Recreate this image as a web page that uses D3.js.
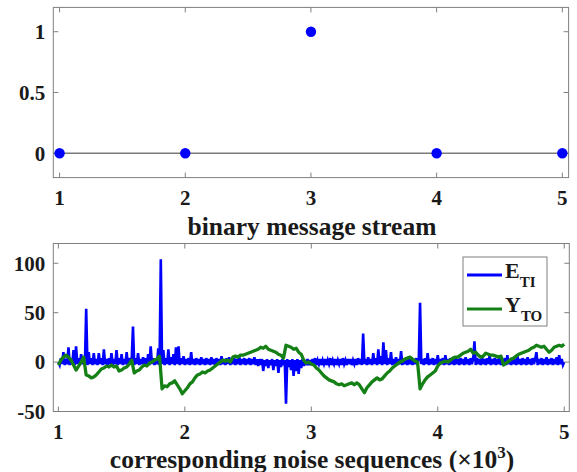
<!DOCTYPE html>
<html>
<head>
<meta charset="utf-8">
<script src="https://cdn.jsdelivr.net/npm/d3@7"></script>
<style>
  html, body { margin: 0; padding: 0; background: #fff; }
  svg { display: block; }
  text { font-family: "Liberation Serif", "Times New Roman", serif; font-weight: bold; fill: #1a1a1a; }
</style>
</head>
<body>
<svg id="chart" width="577" height="472"></svg>
<script>
// ---------- data ----------
const msgIndex = [1, 2, 3, 4, 5];
const msgBits  = [0, 0, 1, 0, 0];

const xTickLabels   = [1, 2, 3, 4, 5];
const topYTicks     = [0, 0.5, 1];
const bottomYTicks  = [-50, 0, 50, 100];

// E_TI: one value every 10 samples, from sample 1000 to 5000
const etiStart = 1000, etiStep = 10;
const etiValues = [
  0,-3,4,-2,10,-3,3,-2,15,-3,
  3,-2,12,-3,16,-2,4,-3,8,-2,
  3,-2,54,-3,10,-2,4,-3,9,-2,
  3,-3,9,-2,4,-3,13,-2,3,-3,
  4,-2,9,-3,3,-2,12,-3,4,-2,
  8,-3,3,-2,10,-3,4,-2,3,36,
  -3,4,-2,9,-3,3,-2,5,-3,4,
  -2,8,-3,16,-2,4,-3,3,-2,14,
  -3,104,-2,12,-3,4,-2,13,-3,5,
  -2,8,-3,15,-2,16,-3,4,-2,6,
  -3,3,-2,4,-3,10,-2,3,-3,4,
  -2,3,-3,5,-2,3,-3,4,-2,3,
  -3,5,-2,3,-3,4,-2,3,-3,6,
  -2,3,-3,4,-2,5,-3,3,-2,4,
  -3,3,-2,6,-3,3,-2,4,-3,3,
  -2,4,-3,3,-2,5,-3,3,-4,3,
  -3,3,-9,2,-4,3,-6,2,-3,3,
  -8,2,-4,3,-11,2,-5,3,-3,2,
  -42,3,-5,2,-8,3,-14,2,-9,3,
  -12,2,-6,3,-4,2,-3,3,-3,2,
  -3,3,-2,4,-3,2,-2,3,-3,2,
  -2,3,-3,2,-2,4,-3,2,-2,3,
  -3,2,-2,3,-3,4,-2,2,-3,3,
  -2,3,-3,2,-2,3,-3,4,-2,3,
  -3,29,-2,3,-3,5,-2,3,-3,9,
  -2,4,-3,13,-2,6,-3,20,-2,12,
  -3,4,-2,10,-3,3,-2,5,-3,3,
  -2,11,-3,3,-2,4,-3,3,-2,5,
  -3,3,-2,4,-3,3,60,-2,3,-3,
  4,-2,9,-3,3,-2,4,-3,3,-2,
  7,-3,3,-2,4,-3,7,-2,3,-3,
  4,-2,3,-3,5,-2,3,-3,4,-2,
  3,-3,5,-2,3,-3,4,-2,3,21,
  -3,4,-2,3,-3,5,-2,3,-3,4,
  -2,7,-3,3,-2,4,-3,3,-2,5,
  -3,3,-2,4,-3,7,-2,3,-3,4,
  -2,3,-3,6,-2,3,-3,4,-2,3,
  -3,5,-2,3,-3,4,-2,3,10,-3,
  3,-2,4,-3,3,-2,5,-3,3,-2,
  4,-3,3,-2,5,-3,7,-2,3,-3,
  0
];

// Y_TO: one value every 20 samples, from sample 1000 to 5000
const ytoStart = 1000, ytoStep = 20;
const ytoValues = [
  -3,2,5,7,5,2,-3,-8,-4,0,
  5,-13,-14,-16,-15,-13,-10,-7,-6,-4,
  -5,-3,-5,-4,-9,-8,-6,-5,-2,2,
  -11,-9,-8,-5,-3,-4,-1,0,2,3,
  6,-27,-24,-25,-22,-21,-19,-23,-27,-32,
  -29,-26,-22,-20,-16,-13,-12,-10,-11,-9,
  -8,-6,-4,-2,0,2,1,2,0,5,
  6,5,7,7,8,9,10,11,12,13,
  15,14,16,13,12,11,10,8,7,4,
  17,16,15,13,14,10,8,2,-1,0,
  -2,-3,-6,-8,-11,-14,-16,-18,-19,-20,
  -22,-23,-22,-24,-23,-22,-21,-23,-21,-23,
  -27,-31,-26,-23,-20,-18,-16,-18,-17,-14,
  -11,-9,-6,-4,-2,0,1,3,4,5,
  3,1,0,-27,-22,-18,-15,-13,-11,-9,
  -4,-1,0,1,0,2,4,5,5,7,
  9,10,11,13,9,10,7,5,6,9,
  8,7,7,6,5,6,-3,-1,1,3,
  4,6,8,9,10,11,12,14,15,17,
  16,15,16,13,10,12,15,16,17,16,
  18
];

// ---------- layout ----------
const svg = d3.select("#chart");
const axisColor = "#7f7f7f";
const tickLen = 5;
const fontTick = 21;
const fontLabel = 25.5;

function drawFrame(g, x, y, xTicks, yTicks, xFmt, yFmt, xTickVal, xLabelOffset) {
  const [x0, x1] = x.range();
  const [y0, y1] = y.range();
  g.append("rect").attr("x", x0).attr("y", y1).attr("width", x1 - x0).attr("height", y0 - y1)
    .attr("fill", "none").attr("stroke", axisColor).attr("stroke-width", 1);
  xTicks.forEach(t => {
    const px = x(xTickVal(t));
    g.append("line").attr("x1", px).attr("x2", px).attr("y1", y0).attr("y2", y0 - tickLen)
      .attr("stroke", axisColor);
    g.append("line").attr("x1", px).attr("x2", px).attr("y1", y1).attr("y2", y1 + tickLen)
      .attr("stroke", axisColor);
    g.append("text").attr("x", px).attr("y", y0 + xLabelOffset).attr("text-anchor", "middle")
      .attr("font-size", fontTick).text(xFmt(t));
  });
  yTicks.forEach(t => {
    const py = y(t);
    g.append("line").attr("x1", x0).attr("x2", x0 + tickLen).attr("y1", py).attr("y2", py)
      .attr("stroke", axisColor);
    g.append("line").attr("x1", x1).attr("x2", x1 - tickLen).attr("y1", py).attr("y2", py)
      .attr("stroke", axisColor);
    g.append("text").attr("x", x0 - 8).attr("y", py).attr("dy", "0.35em").attr("text-anchor", "end")
      .attr("font-size", fontTick).text(yFmt(t));
  });
}

// ---------- top: binary message stream ----------
const xTop = d3.scaleLinear().domain([0.95, 5.05]).range([53.3, 568.6]);
const yTop = d3.scaleLinear().domain([-0.2, 1.2]).range([177.6, 7.4]);
const gTop = svg.append("g");

gTop.append("line").attr("x1", xTop(0.95)).attr("x2", xTop(5.05)).attr("y1", yTop(0)).attr("y2", yTop(0))
  .attr("stroke", "#7a7a7a").attr("stroke-width", 1.5);

drawFrame(gTop, xTop, yTop, xTickLabels, topYTicks, d => String(d), d => String(d), d => d, 27.5);

gTop.selectAll("circle").data(msgIndex).join("circle")
  .attr("cx", d => xTop(d)).attr("cy", (d, i) => yTop(msgBits[i]))
  .attr("r", 5.2).attr("fill", "#0000ff");

gTop.append("text").attr("x", 312).attr("y", 234.5).attr("text-anchor", "middle")
  .attr("font-size", fontLabel).text("binary message stream");

// ---------- bottom: noise sequences ----------
const xBot = d3.scaleLinear().domain([960, 5040]).range([53.3, 569.3]);
const yBot = d3.scaleLinear().domain([-50, 120]).range([411.5, 243.5]);
const gBot = svg.append("g");

svg.append("defs").append("clipPath").attr("id", "clipBot").append("rect")
  .attr("x", 53.3).attr("y", 243.5).attr("width", 569.3 - 53.3).attr("height", 411.5 - 243.5);

const etiData = etiValues.map((v, i) => [etiStart + i * etiStep, v]);
const ytoData = ytoValues.map((v, i) => [ytoStart + i * ytoStep, v]);
const line = d3.line().x(d => xBot(d[0])).y(d => yBot(d[1]));

const gLines = gBot.append("g").attr("clip-path", "url(#clipBot)");
gLines.append("path").datum(etiData).attr("d", line)
  .attr("fill", "none").attr("stroke", "#0000ff").attr("stroke-width", 2.6).attr("stroke-linejoin", "miter");
gLines.append("path").datum(ytoData).attr("d", line)
  .attr("fill", "none").attr("stroke", "#158015").attr("stroke-width", 3.3).attr("stroke-linejoin", "round");

drawFrame(gBot, xBot, yBot, xTickLabels, bottomYTicks, d => String(d), d => String(d), d => d * 1000, 27.5);

const xl = gBot.append("text").attr("x", 312).attr("y", 467.5).attr("text-anchor", "middle")
  .attr("font-size", fontLabel);
xl.append("tspan").text("corresponding noise sequences (\u00d710");
xl.append("tspan").attr("dy", -10).attr("font-size", 17).text("3");
xl.append("tspan").attr("dy", 10).text(")");

// legend
const seriesNames = [["E", "TI"], ["Y", "TO"]];
const seriesColors = ["#0000ff", "#158015"];
const lg = gBot.append("g");
lg.append("rect").attr("x", 463).attr("y", 257).attr("width", 84).attr("height", 69)
  .attr("fill", "#fff").attr("stroke", axisColor).attr("stroke-width", 1);
seriesNames.forEach((n, i) => {
  const cy = 275 + i * 34;
  lg.append("line").attr("x1", 467).attr("x2", 502).attr("y1", cy).attr("y2", cy)
    .attr("stroke", seriesColors[i]).attr("stroke-width", 3);
  const t = lg.append("text").attr("x", 505).attr("y", cy + 3).attr("font-size", 22);
  t.append("tspan").text(n[0]);
  t.append("tspan").attr("dy", 9).attr("font-size", 15).text(n[1]);
});
</script>
</body>
</html>
